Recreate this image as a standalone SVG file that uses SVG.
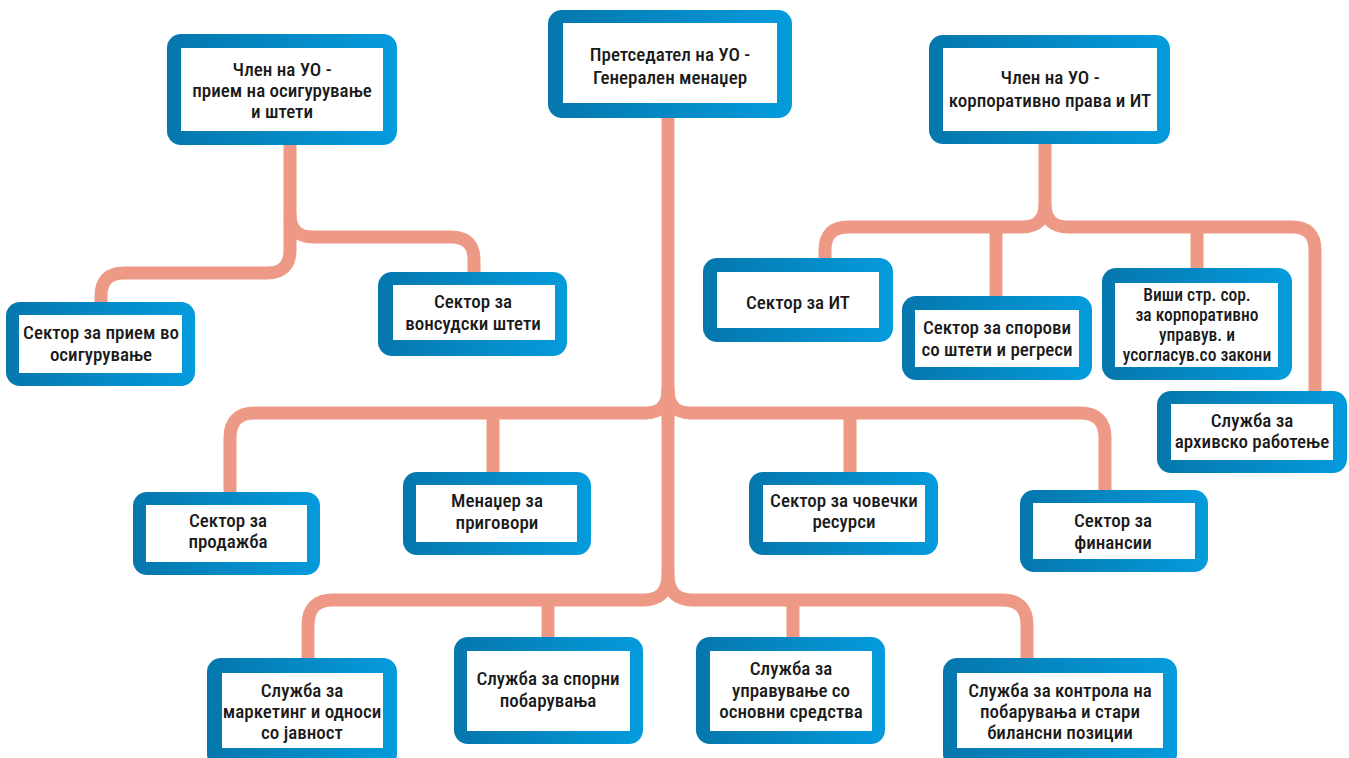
<svg xmlns="http://www.w3.org/2000/svg" width="1349" height="758" viewBox="0 0 1349 758">
<defs>
<linearGradient id="bg" x1="0" y1="0" x2="1" y2="0">
<stop offset="0" stop-color="#0577AD"/>
<stop offset="1" stop-color="#049BDC"/>
</linearGradient>
<style>
.o{fill:url(#bg)}
.i{fill:#fff}
.t{font-family:"Roboto Condensed","Roboto","Liberation Sans",sans-serif;font-size:19px;font-weight:500;fill:#1a1a1a;text-anchor:middle}
.s{font-size:17.5px}
.c{fill:none;stroke:#EE9986;stroke-width:13;stroke-linejoin:round}
</style>
</defs>
<rect width="1349" height="758" fill="#fff"/>
<g id="connectors" class="c">
<path d="M668,118 V575 Q668,600 643,600 H333 Q308,600 308,625 V658"/>
<path d="M668,575 Q668,600 693,600 H1002 Q1027,600 1027,625 V658"/>
<path d="M548,600 V637"/>
<path d="M793,600 V637"/>
<path d="M668,390 Q668,413 645,413 H255 Q230,413 230,438 V492"/>
<path d="M668,390 Q668,413 691,413 H1080 Q1105,413 1105,438 V490"/>
<path d="M493,413 V472"/>
<path d="M850,413 V472"/>
<path d="M290,145 V250 Q290,273 267,273 H124 Q101,273 101,296 V302"/>
<path d="M290,214 Q290,237 313,237 H451 Q474,237 474,260 V272"/>
<path d="M1045,144 V204 Q1045,227 1022,227 H848 Q825,227 825,250 V258"/>
<path d="M1045,204 Q1045,227 1068,227 H1292 Q1315,227 1315,250 V391"/>
<path d="M996,227 V296"/>
<path d="M1197,227 V268"/>
</g>
<g id="n1"><rect class="o" x="167" y="34" width="230" height="111" rx="14"/><rect class="i" x="181" y="48" width="202" height="83"/>
<text class="t" x="282" y="76">Член на УО -</text><text class="t" x="282" y="97">прием на осигурување</text><text class="t" x="282" y="118">и штети</text></g>
<g id="n2"><rect class="o" x="548" y="10" width="244" height="108" rx="14"/><rect class="i" x="563" y="23" width="214" height="80"/>
<text class="t" x="670" y="61">Претседател на УО -</text><text class="t" x="670" y="84">Генерален менаџер</text></g>
<g id="n3"><rect class="o" x="929" y="35" width="241" height="109" rx="14"/><rect class="i" x="943" y="48" width="214" height="83"/>
<text class="t" x="1050" y="84">Член на УО -</text><text class="t" x="1050" y="107">корпоративно права и ИТ</text></g>
<g id="n4"><rect class="o" x="6" y="302" width="189" height="84" rx="14"/><rect class="i" x="19" y="315" width="163" height="58"/>
<text class="t" x="101" y="339">Сектор за прием во</text><text class="t" x="101" y="361">осигурување</text></g>
<g id="n5"><rect class="o" x="378" y="272" width="189" height="84" rx="14"/><rect class="i" x="393" y="285" width="162" height="55"/>
<text class="t" x="473" y="308">Сектор за</text><text class="t" x="473" y="330">вонсудски штети</text></g>
<g id="n6"><rect class="o" x="703" y="258" width="190" height="84" rx="14"/><rect class="i" x="717" y="272" width="162" height="56"/>
<text class="t" x="798" y="309">Сектор за ИТ</text></g>
<g id="n7"><rect class="o" x="902" y="296" width="190" height="84" rx="14"/><rect class="i" x="915" y="310" width="164" height="57"/>
<text class="t" x="997" y="334">Сектор за спорови</text><text class="t" x="997" y="356">со штети и регреси</text></g>
<g id="n8"><rect class="o" x="1102" y="268" width="190" height="112" rx="14"/><rect class="i" x="1115" y="283" width="163" height="84"/>
<text class="t s" x="1197" y="301">Виши стр. сор.</text><text class="t s" x="1197" y="321">за корпоративно</text><text class="t s" x="1197" y="341">управув. и</text><text class="t s" x="1197" y="361">усогласув.со закони</text></g>
<g id="n9"><rect class="o" x="1157" y="391" width="190" height="82" rx="14"/><rect class="i" x="1171" y="404" width="162" height="56"/>
<text class="t" x="1252" y="427">Служба за</text><text class="t" x="1252" y="448">архивско работење</text></g>
<g id="n10"><rect class="o" x="133" y="492" width="187" height="83" rx="14"/><rect class="i" x="146" y="505" width="161" height="57"/>
<text class="t" x="228" y="527">Сектор за</text><text class="t" x="228" y="548">продажба</text></g>
<g id="n11"><rect class="o" x="403" y="472" width="188" height="83" rx="14"/><rect class="i" x="416" y="485" width="161" height="57"/>
<text class="t" x="497" y="507">Менаџер за</text><text class="t" x="497" y="529">приговори</text></g>
<g id="n12"><rect class="o" x="749" y="472" width="189" height="83" rx="14"/><rect class="i" x="763" y="485" width="162" height="57"/>
<text class="t" x="844" y="507">Сектор за човечки</text><text class="t" x="844" y="528">ресурси</text></g>
<g id="n13"><rect class="o" x="1020" y="490" width="188" height="82" rx="14"/><rect class="i" x="1033" y="503" width="162" height="56"/>
<text class="t" x="1113" y="527">Сектор за</text><text class="t" x="1113" y="549">финансии</text></g>
<g id="n14"><rect class="o" x="207" y="658" width="190" height="110" rx="14"/><rect class="i" x="222" y="673" width="161" height="75"/>
<text class="t" x="302" y="697">Служба за</text><text class="t" x="302" y="718">маркетинг и односи</text><text class="t" x="302" y="739">со јавност</text></g>
<g id="n15"><rect class="o" x="454" y="637" width="189" height="107" rx="14"/><rect class="i" x="467" y="651" width="163" height="80"/>
<text class="t" x="548" y="685">Служба за спорни</text><text class="t" x="548" y="707">побарувања</text></g>
<g id="n16"><rect class="o" x="696" y="637" width="189" height="107" rx="14"/><rect class="i" x="710" y="651" width="162" height="80"/>
<text class="t" x="791" y="675">Служба за</text><text class="t" x="791" y="697">управување со</text><text class="t" x="791" y="718">основни средства</text></g>
<g id="n17"><rect class="o" x="943" y="658" width="234" height="110" rx="14"/><rect class="i" x="957" y="673" width="206" height="75"/>
<text class="t" x="1060" y="697">Служба за контрола на</text><text class="t" x="1060" y="718">побарувања и стари</text><text class="t" x="1060" y="739">билансни позиции</text></g>
</svg>
